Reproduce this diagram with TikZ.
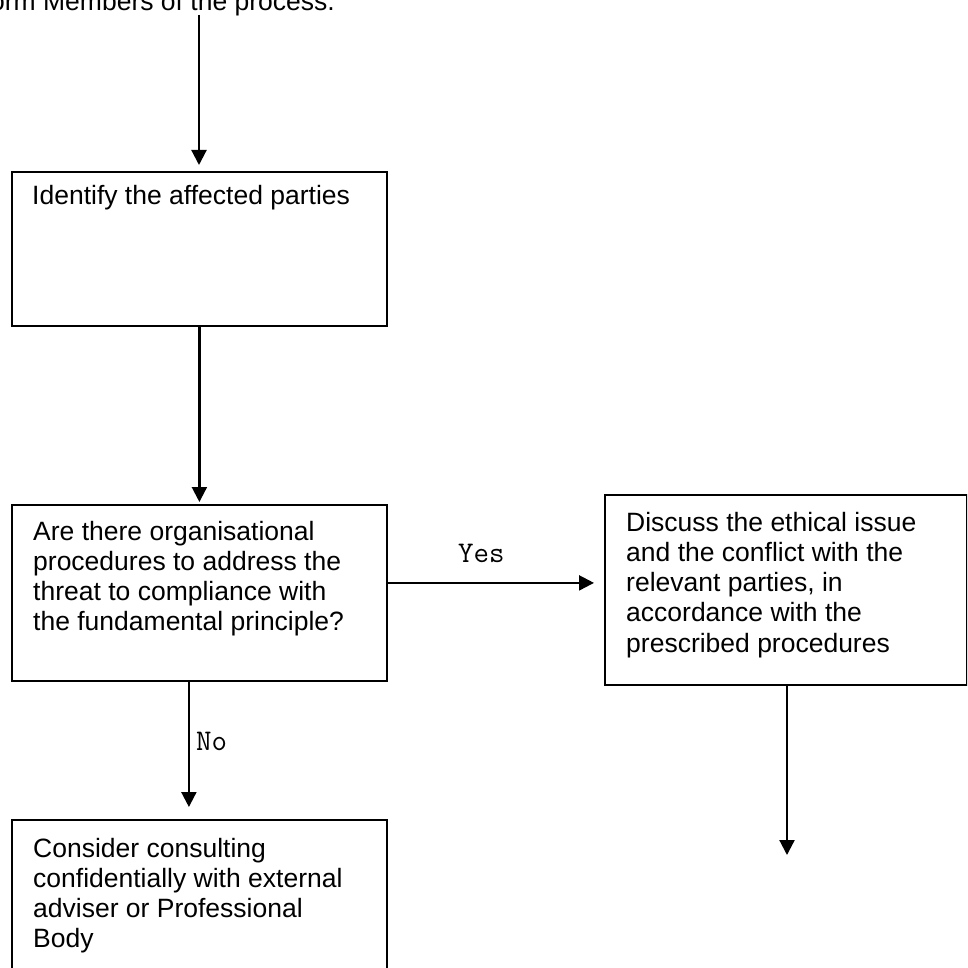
\documentclass[tikz,border=0pt]{standalone}
\usepackage{fontspec}
\setmainfont{Liberation Sans}
\usetikzlibrary{arrows.meta}
\begin{document}
\begin{tikzpicture}[x=1pt,y=-1pt,
  box/.style={draw, line width=1.8pt, inner sep=0pt, anchor=north west},
  txt/.style={anchor=base west, inner sep=0pt, font=\fontsize{26.5}{30.3}\selectfont},
  lbl/.style={anchor=base west, inner sep=0pt, font=\ttfamily\fontsize{30}{34}\selectfont},
  arr/.style={line width=2.2pt, -{Triangle[width=15pt,length=15pt]}}]
\useasboundingbox (0,0) rectangle (967,968);
\clip (0,0) rectangle (967,968);
% intro text (cut off by the picture border)
\node[txt, anchor=base east] (intro) at (335,11) {Inform Members of the process.};
\coordinate (start) at (199,15);
% boxes
\node[box, minimum width=375pt, minimum height=154pt] (b1) at (11,171) {};
\node[box, minimum width=375pt, minimum height=176pt] (b2) at (11,504) {};
\node[box, minimum width=362pt, minimum height=190pt] (b3) at (604,494) {};
\node[box, minimum width=375pt, minimum height=180pt] (b4) at (11,819) {};
% texts
\node[txt] (t1) at (32,205) {\parbox[t]{350pt}{\raggedright Identify the affected parties}};
\node[txt] (t2) at (33,540) {\parbox[t]{350pt}{\raggedright Are there organisational\\procedures to address the\\threat to compliance with\\the fundamental principle?}};
\node[txt] (t3) at (626,531) {\parbox[t]{340pt}{\raggedright Discuss the ethical issue\\and the conflict with the\\relevant parties, in\\accordance with the\\prescribed procedures}};
\node[txt] (t4) at (33,857) {\parbox[t]{350pt}{\raggedright Consider consulting\\confidentially with external\\adviser or Professional\\Body}};
% connectors
\draw[arr, shorten >=6pt] (start) -- (start |- b1.north);
\draw[arr, shorten >=2pt] (b1.south) -- (b2.north);
\draw[arr, shorten >=10pt] ([yshift=10pt]b2.east) -- ([yshift=10pt]b2.east -| b3.west);
\draw[arr, shorten >=12pt] ([xshift=-10.5pt]b2.south) -- ([xshift=-10.5pt]b2.south |- b4.north);
\coordinate (end) at (787,855);
\draw[arr] (b3.south -| end) -- (end);
% labels
\node[lbl] (yes) at (458,562) {Yes};
\node[lbl] (no) at (196,750) {No};
\end{tikzpicture}
\end{document}
